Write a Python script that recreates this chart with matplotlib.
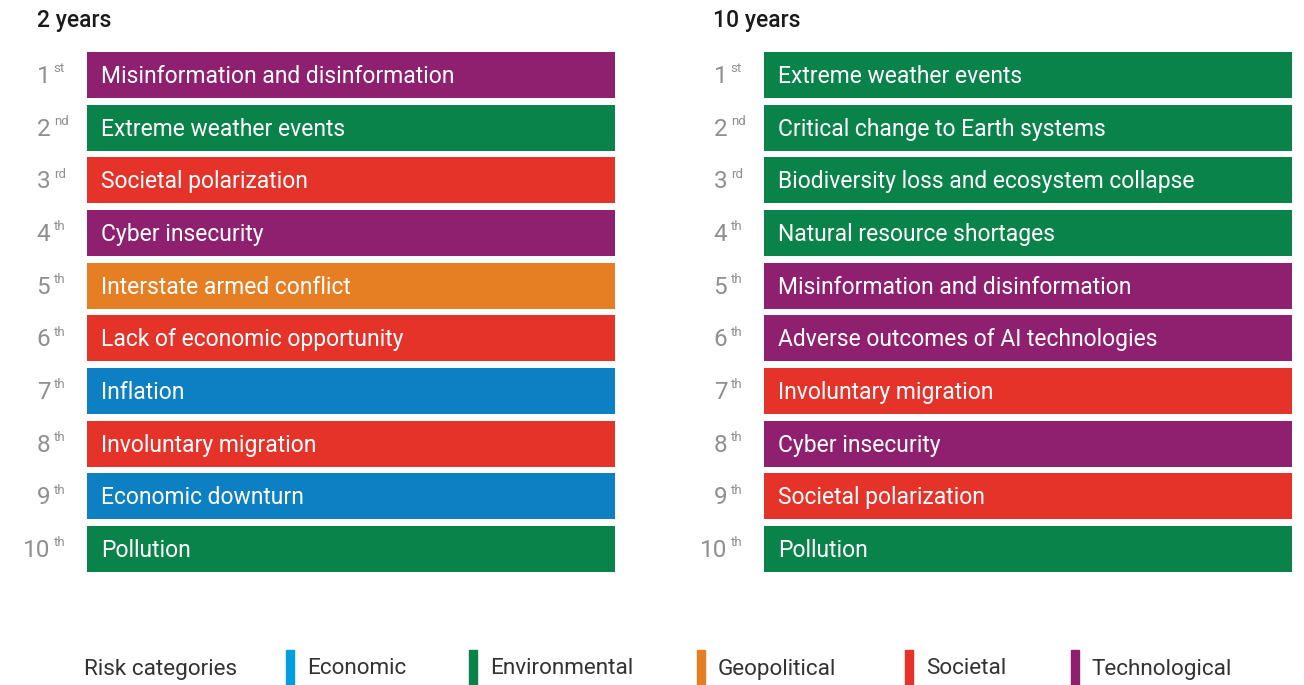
import matplotlib
matplotlib.use("Agg")
import matplotlib.pyplot as plt
from matplotlib.patches import Rectangle

plt.rcParams['font.family'] = ['Roboto', 'DejaVu Sans']

# ---- data ----
ranks = [1, 2, 3, 4, 5, 6, 7, 8, 9, 10]
suffixes = ["st", "nd", "rd", "th", "th", "th", "th", "th", "th", "th"]

risks_2y = ["Misinformation and disinformation", "Extreme weather events",
            "Societal polarization", "Cyber insecurity", "Interstate armed conflict",
            "Lack of economic opportunity", "Inflation", "Involuntary migration",
            "Economic downturn", "Pollution"]
cats_2y = ["Technological", "Environmental", "Societal", "Technological", "Geopolitical",
           "Societal", "Economic", "Societal", "Economic", "Environmental"]

risks_10y = ["Extreme weather events", "Critical change to Earth systems",
             "Biodiversity loss and ecosystem collapse", "Natural resource shortages",
             "Misinformation and disinformation", "Adverse outcomes of AI technologies",
             "Involuntary migration", "Cyber insecurity", "Societal polarization", "Pollution"]
cats_10y = ["Environmental", "Environmental", "Environmental", "Environmental", "Technological",
            "Technological", "Societal", "Technological", "Societal", "Environmental"]

bar_values = [1, 1, 1, 1, 1, 1, 1, 1, 1, 1]

legend_cats = ["Economic", "Environmental", "Geopolitical", "Societal", "Technological"]

bar_colors = {"Economic": "#0D80C4", "Environmental": "#0A834B", "Geopolitical": "#E67F23",
              "Societal": "#E5332A", "Technological": "#8E206F"}
legend_colors = {"Economic": "#00A0E0", "Environmental": "#0A834B", "Geopolitical": "#E67F23",
                 "Societal": "#E5332A", "Technological": "#8E206F"}

W, H = 1304, 685
fig = plt.figure(figsize=(W / 100, H / 100), dpi=100)

pitch = (527 - 52) / 9.0
bar_h = 46 / pitch
top_px = 52 - (pitch - 46) / 2
bot_px = 572 + (pitch - 46) / 2


def panel(x0, x1, title, risks, cats, title_x):
    ax = fig.add_axes([x0 / W, 1 - bot_px / H, (x1 - x0) / W, (bot_px - top_px) / H])
    ax.barh(ranks, bar_values, height=bar_h, color=[bar_colors[c] for c in cats], left=0)
    ax.set_xlim(0, 1)
    ax.set_ylim(10.5, 0.5)
    ax.axis("off")
    for r, name in zip(ranks, risks):
        ax.annotate(name, xy=(0, r), xytext=(10, -1), textcoords="offset points",
                    va="center", ha="left", color="white", fontsize=16.5)
    for r, s in zip(ranks, suffixes):
        ax.annotate(str(r), xy=(0, r), xytext=(-26.5, -1), textcoords="offset points",
                    va="center", ha="right", color="#8f8f8f", fontsize=17.5)
        ax.annotate(s, xy=(0, r), xytext=(-24, 4.5), textcoords="offset points",
                    va="center", ha="left", color="#8f8f8f", fontsize=9.5)
    fig.text(title_x / W, 1 - 21 / H, title, ha="left", va="center",
             fontsize=16.5, fontweight="medium", color="#1a1a1a")
    return ax


panel(87, 615, "2 years", risks_2y, cats_2y, 37)
panel(764, 1292, "10 years", risks_10y, cats_10y, 713)

# ---- legend ----
leg_y = 1 - 669 / H
fig.text(84 / W, leg_y, "Risk categories", ha="left", va="center", fontsize=16.2,
         color="#333333")
leg_bar_x = [286, 469, 697, 905, 1071]
for bx, cat in zip(leg_bar_x, legend_cats):
    fig.patches.append(Rectangle((bx / W, 0), 8 / W, 35 / H, transform=fig.transFigure,
                                 color=legend_colors[cat]))
    fig.text((bx + 21) / W, leg_y, cat, ha="left", va="center", fontsize=16.2,
             color="#333333")

fig.savefig("out.png", dpi=100, facecolor="white")
